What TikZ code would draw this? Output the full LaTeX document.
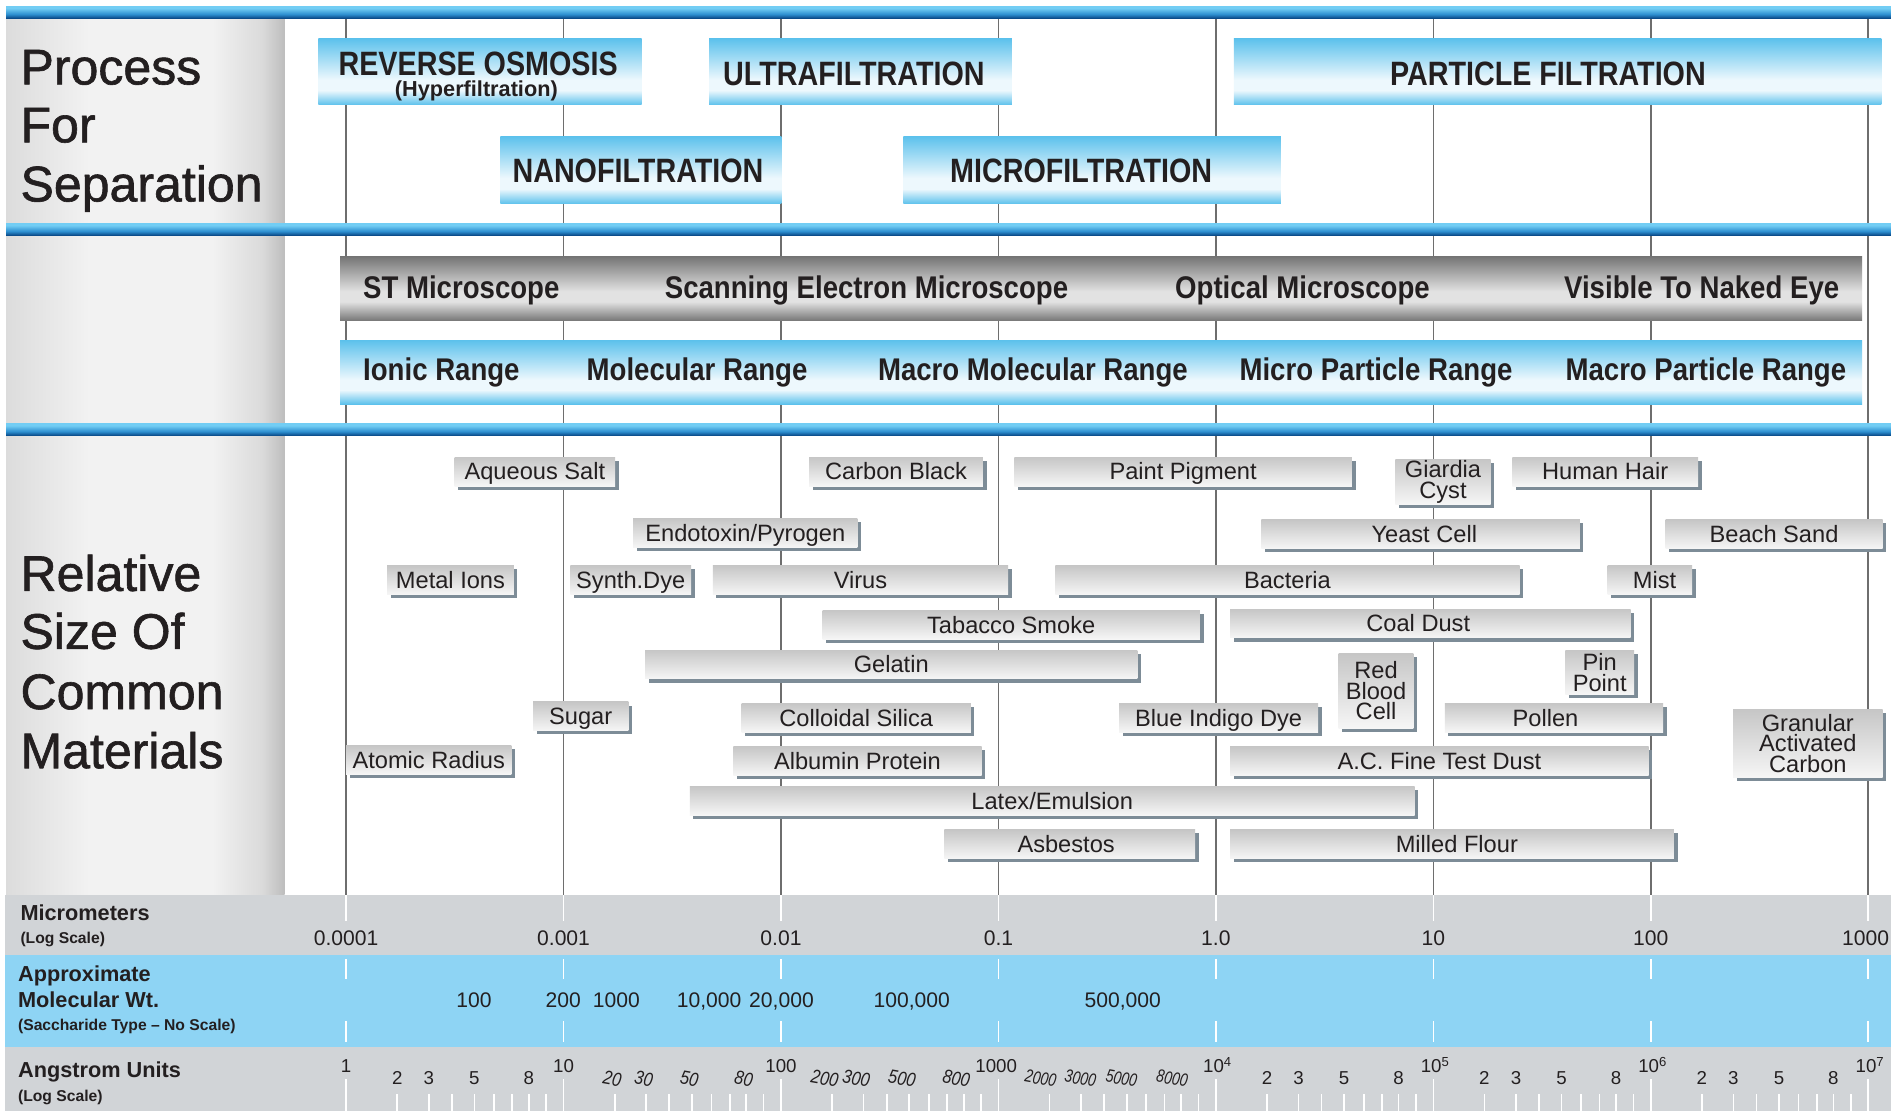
\documentclass[tikz,border=0pt]{standalone}
\usepackage{fontspec}
\setmainfont{Liberation Sans}
\newfontfamily\hdrfont[FakeStretch=0.85]{Liberation Sans}
\newfontfamily\barfont[FakeStretch=0.88]{Liberation Sans}
\newfontfamily\ttlfont[FakeBold=1.2]{Liberation Sans}
\newfontfamily\angfont[FakeStretch=0.85]{Liberation Sans}
\newfontfamily\angfontb[FakeStretch=0.78]{Liberation Sans}

\definecolor{txt}{HTML}{231F20}
\definecolor{barlight}{HTML}{72CDF4}
\definecolor{barmid}{HTML}{2D8FD0}
\definecolor{bardark}{HTML}{0A4A88}
\definecolor{bxblue}{HTML}{5CC1EC}
\definecolor{bxwhite}{HTML}{EDF8FD}
\definecolor{gbdark}{HTML}{767676}
\definecolor{gblight}{HTML}{E2E2E2}
\definecolor{gridc}{HTML}{6E6E6E}
\definecolor{bandgray}{HTML}{D1D4D7}
\definecolor{bandblue}{HTML}{8ED4F4}
\definecolor{shadowc}{HTML}{7D8C97}
\definecolor{mtop}{HTML}{C6C6C6}
\definecolor{mbot}{HTML}{F6F6F6}
\definecolor{pa}{HTML}{DCDCDC}
\definecolor{pb}{HTML}{F2F2F2}
\definecolor{pc}{HTML}{DADADA}
\definecolor{pd}{HTML}{BDBDBD}

\pgfdeclareverticalshading{bluebar}{100bp}{color(0bp)=(bardark); color(25bp)=(bardark); color(42bp)=(barmid); color(68bp)=(barlight); color(100bp)=(barlight)}
\pgfdeclareverticalshading{bluebox}{100bp}{color(0bp)=(bxblue); color(25bp)=(bxblue); color(36bp)=(bxwhite); color(44bp)=(bxwhite); color(75bp)=(bxblue); color(100bp)=(bxblue)}
\pgfdeclareverticalshading{graybar}{100bp}{color(0bp)=(gbdark); color(25bp)=(gbdark); color(40bp)=(gblight); color(48bp)=(gblight); color(75bp)=(gbdark); color(100bp)=(gbdark)}
\pgfdeclareverticalshading{matbox}{100bp}{color(0bp)=(mbot); color(25bp)=(mbot); color(75bp)=(mtop); color(100bp)=(mtop)}
\pgfdeclarehorizontalshading{panel}{100bp}{color(0bp)=(pa); color(25bp)=(pa); color(40bp)=(pb); color(62bp)=(pb); color(71bp)=(pc); color(75bp)=(pd); color(100bp)=(pd)}

\newcommand\matb[7][]{%
  \fill[shadowc] ({#3+3},{#4+3}) rectangle ({#5+3},{#6+3});
  \node[matnode,#1,minimum width={(#5-#3)*1pt},minimum height={(#6-#4)*1pt}] (#2) at ({(#3+#5)/2},{(#4+#6)/2}) {#7};}

\begin{document}
\begin{tikzpicture}[x=1pt,y=-1pt,
  every node/.style={inner sep=0pt, outer sep=0pt, text=txt},
  gridline/.style={draw=gridc, line width=1.3pt},
  wtick/.style={draw=white, line width=1.4pt},
  hdrbox/.style={rectangle, shading=bluebox},
  hdrtxt/.style={font=\hdrfont\bfseries\fontsize{28}{28}\selectfont, text height=20pt, text depth=0pt},
  subtxt/.style={font=\bfseries\fontsize{18}{18}\selectfont, text height=13pt, text depth=0pt},
  graynode/.style={rectangle, shading=graybar},
  rangenode/.style={rectangle, shading=bluebox},
  bartxt/.style={font=\barfont\bfseries\fontsize{26}{26}\selectfont, text height=18.6pt, text depth=0pt},
  matnode/.style={rectangle, shading=matbox, font=\fontsize{19.6}{17}\selectfont, align=center, text height=14pt, text depth=0pt},
  mattall/.style={text height=, text depth=},
  title/.style={font=\ttlfont\fontsize{41.5}{41.5}\selectfont, anchor=base west},
  axlab/.style={font=\bfseries\fontsize{18}{18}\selectfont, anchor=west, text height=13pt, text depth=0pt},
  axsub/.style={font=\bfseries\fontsize{13}{13}\selectfont, anchor=west, text height=9.4pt, text depth=0pt},
  numlab/.style={font=\fontsize{17.5}{17.5}\selectfont, text height=12.6pt, text depth=0pt},
  anglab/.style={font=\fontsize{15.5}{15.5}\selectfont, text height=11.1pt, text depth=0pt},
  angit/.style={font=\angfont\itshape\fontsize{16}{16}\selectfont, text height=11.5pt, text depth=0pt, rotate=-10},
  angitb/.style={font=\angfontb\itshape\fontsize{15}{15}\selectfont, text height=10.8pt, text depth=0pt, rotate=-10}
]
\useasboundingbox (0,0) rectangle (1568,921);
\fill[white] (0,0) rectangle (1568,921);

% left panel
\shade[shading=panel] (5,15) rectangle (236,742);

% grid lines
\foreach \i in {0,...,7} {\draw[gridline] ({287+180.3*\i},15) -- ({287+180.3*\i},742);}

% scale bands
\fill[bandgray] (4,742) rectangle (1568,792);
\fill[bandblue] (4,792) rectangle (1568,868);
\fill[bandgray] (4,868) rectangle (1568,921);

% blue separator bars
\shade[shading=bluebar] (5,5.5) rectangle (1568,15);
\shade[shading=bluebar] (5,185.5) rectangle (1568,195);
\shade[shading=bluebar] (5,351.5) rectangle (1568,361);

% titles
\node[title] (ttl1) at (17,70) {Process};
\node[title] (ttl2) at (17,118) {For};
\node[title] (ttl3) at (17,167) {Separation};
\node[title] (ttl4) at (17,490) {Relative};
\node[title] (ttl5) at (17,538) {Size Of};
\node[title] (ttl6) at (17,588) {Common};
\node[title] (ttl7) at (17,637) {Materials};

% process boxes
\node[hdrbox, minimum width=268pt, minimum height=55pt] (ro) at (398,59.5) {};
\node[hdrbox, minimum width=251pt, minimum height=55pt] (uf) at (713.5,59.5) {};
\node[hdrbox, minimum width=537pt, minimum height=55pt] (pf) at (1291.5,59.5) {};
\node[hdrbox, minimum width=233pt, minimum height=56pt] (nf) at (531.5,141) {};
\node[hdrbox, minimum width=313pt, minimum height=56pt] (mf) at (905.5,141) {};
\node[hdrtxt] (rot) at (396.5,53) {REVERSE OSMOSIS};
\node[subtxt] (ros) at (395,73.5) {(Hyperfiltration)};
\node[hdrtxt] (uft) at (708,61) {ULTRAFILTRATION};
\node[hdrtxt] (pft) at (1283.5,61) {PARTICLE FILTRATION};
\node[hdrtxt] (nft) at (529,141) {NANOFILTRATION};
\node[hdrtxt] (mft) at (896.5,141) {MICROFILTRATION};

% microscope and range bars
\node[graynode, minimum width=1262pt, minimum height=53pt] (scope) at (913,239.5) {};
\node[rangenode, minimum width=1262pt, minimum height=53pt] (range) at (913,308.5) {};
\node[bartxt] (sc1) at (382.5,238) {ST Microscope};
\node[bartxt] (sc2) at (718.5,238) {Scanning Electron Microscope};
\node[bartxt] (sc3) at (1080,238) {Optical Microscope};
\node[bartxt] (sc4) at (1411,238) {Visible To Naked Eye};
\node[bartxt] (rg1) at (366,306.5) {Ionic Range};
\node[bartxt] (rg2) at (578,306.5) {Molecular Range};
\node[bartxt] (rg3) at (856.5,306.5) {Macro Molecular Range};
\node[bartxt] (rg4) at (1141,306.5) {Micro Particle Range};
\node[bartxt] (rg5) at (1414.5,306.5) {Macro Particle Range};

% materials
\matb{aq}{377}{379}{510}{403}{Aqueous Salt}
\matb{cb}{671}{379}{815}{403}{Carbon Black}
\matb{pp}{841}{379}{1121}{403}{Paint Pigment}
\matb[mattall]{gc}{1157}{381}{1236}{418}{Giardia\\Cyst}
\matb{hh}{1254}{379}{1408}{403}{Human Hair}
\matb{en}{525}{430}{711}{454}{Endotoxin/Pyrogen}
\matb{yc}{1046}{431}{1310}{455}{\hspace*{6pt}Yeast Cell}
\matb{bs}{1381}{431}{1561}{455}{Beach Sand}
\matb{mi}{321}{469}{426}{493}{Metal Ions}
\matb{sd}{473}{469}{573}{493}{Synth.Dye}
\matb{vi}{591}{469}{836}{493}{Virus}
\matb{ba}{875}{469}{1260}{493}{Bacteria}
\matb{ms}{1333}{469}{1403}{493}{\hspace*{8pt}Mist}
\matb{ts}{682}{506}{995}{530}{Tabacco Smoke}
\matb{cd}{1020}{505}{1352}{529}{Coal Dust\hspace*{20pt}}
\matb{ge}{535}{539}{943}{563}{Gelatin}
\matb[mattall]{rb}{1110}{542}{1172}{604}{Red\\Blood\\Cell}
\matb[mattall]{pi}{1298}{539}{1355}{576}{Pin\\Point}
\matb{su}{442}{582}{521}{606}{Sugar}
\matb{cs}{615}{583}{805}{607}{Colloidal Silica}
\matb{bi}{928}{583}{1093}{607}{Blue Indigo Dye}
\matb{po}{1198}{583}{1379}{607}{Pollen\hspace*{14pt}}
\matb[mattall]{gr}{1437}{588}{1561}{645}{Granular\\Activated\\Carbon}
\matb{ar}{287}{618}{424}{642}{Atomic Radius}
\matb{al}{608}{619}{814}{643}{Albumin Protein}
\matb{ac}{1020}{619}{1367}{643}{A.C. Fine Test Dust}
\matb{la}{572}{652}{1173}{676}{Latex/Emulsion}
\matb{as}{783}{688}{991}{712}{Asbestos\hspace*{6pt}}
\matb{mf}{1020}{688}{1388}{712}{\hspace*{8pt}Milled Flour}

% white ticks
\foreach \i in {0,...,7} {
  \draw[wtick] ({287+180.3*\i},742) -- ({287+180.3*\i},764);
  \draw[wtick] ({287+180.3*\i},795) -- ({287+180.3*\i},812);
  \draw[wtick] ({287+180.3*\i},847) -- ({287+180.3*\i},864);
  \draw[wtick] ({287+180.3*\i},895) -- ({287+180.3*\i},921);
}
\foreach \d in {0,...,6} {
  \foreach \f in {0.235,0.38,0.486,0.59,0.68,0.764,0.84,0.92} {
    \draw[wtick] ({287+180.3*(\d+\f)},907) -- ({287+180.3*(\d+\f)},921);
  }
}

% axis captions
\node[axlab] (cap1) at (17,757) {Micrometers};
\node[axsub] (cap2) at (17,778) {(Log Scale)};
\node[axlab] (cap3) at (15,807) {Approximate};
\node[axlab] (cap4) at (15,829) {Molecular Wt.};
\node[axsub] (cap5) at (15,850) {(Saccharide Type – No Scale)};
\node[axlab] (cap6) at (15,887) {Angstrom Units};
\node[axsub] (cap7) at (15,909) {(Log Scale)};

% micrometer labels
\foreach \i/\t in {0/0.0001,1/0.001,2/0.01,3/0.1,4/1.0,5/10,6/100} {
  \node[numlab] (um\i) at ({287+180.3*\i},778) {\t};
}
\node[numlab] (um7) at (1547,778) {1000};

% molecular weight labels
\foreach \n/\x/\t in {a/393/100,b/467/200,c/511/1000,d/588/{10,000},e/648/{20,000},f/756/{100,000},g/931/{500,000}} {
  \node[numlab] (mw\n) at (\x,829) {\t};
}

% angstrom labels
\node[anglab] (ad0) at (287,884) {1};
\node[anglab] (ad1) at (467.3,884) {10};
\node[anglab] (ad2) at (647.6,884) {100};
\node[anglab] (ad3) at (826,884) {1000};
\node[anglab] (ad4) at (1009.5,884) {10\textsuperscript{4}};
\node[anglab] (ad5) at (1190,884) {10\textsuperscript{5}};
\node[anglab] (ad6) at (1370.3,884) {10\textsuperscript{6}};
\node[anglab] (ad7) at (1550.6,884) {10\textsuperscript{7}};
\foreach \d in {0,4,5,6} {
  \foreach \k/\f in {2/0.235,3/0.38,5/0.59,8/0.84} {
    \node[anglab] (am\d-\k) at ({287+180.3*(\d+\f)},894) {\k};
  }
}
\foreach \d/\zs/\o in {1/0/2,2/00/6} {
  \foreach \k/\f in {2/0.235,3/0.38,5/0.59,8/0.84} {
    \node[angit] (ai\d-\k) at ({287+180.3*(\d+\f)-\o},894) {\k\zs};
  }
}
\foreach \k/\x in {2/863,3/896,5/930,8/972} {
  \node[angitb] (ai3-\k) at (\x,894) {\k000};
}
\end{tikzpicture}
\end{document}
